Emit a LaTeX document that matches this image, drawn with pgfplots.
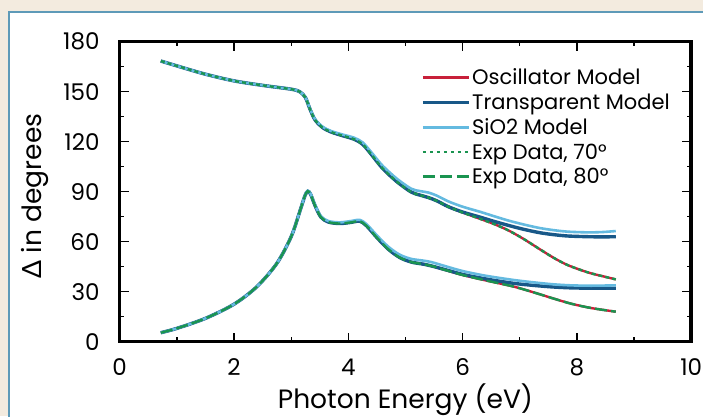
\documentclass[border=0pt]{standalone}
\usepackage{pgfplots}
\pgfplotsset{compat=1.18}
\usepackage{pgfplotstable}
\usepackage{fontspec}
\setmainfont{Poppins}
\newfontfamily\greekfont{Lato}
\definecolor{bgbeige}{RGB}{243,235,223}
\definecolor{panelborder}{RGB}{94,154,184}
\definecolor{oscred}{RGB}{200,32,58}
\definecolor{transblue}{RGB}{24,88,136}
\definecolor{sioblue}{RGB}{100,186,224}
\definecolor{expgreen}{RGB}{26,148,80}

\pgfplotstableread{
E     osc    trans  sio2
0.72  168.4  168.4  168.4
1.0   165.5  165.5  165.5
1.5   160.5  160.5  160.5
2.0   156.5  156.5  156.5
2.5   153.8  153.8  153.8
3.0   151.5  151.5  151.5
3.15  150.0  150.0  150.0
3.25  146.5  146.5  146.6
3.33  139.5  139.5  139.8
3.42  133.0  133.0  133.4
3.55  128.5  128.5  129.0
3.7   125.8  125.8  126.4
3.9   123.6  123.6  124.3
4.1   121.5  121.5  122.4
4.25  118.5  118.5  119.6
4.4   112.5  112.5  113.8
4.6   104.0  104.0  105.6
4.85  96.0   96.0   97.8
5.1   89.8   89.8   91.8
5.25  88.0   88.0   90.4
5.4   86.5   86.5   89.5
5.55  84.5   84.5   87.6
5.75  81.0   81.0   84.2
6.0   77.5   77.8   81.0
6.3   73.8   74.8   78.0
6.55  70.6   72.2   75.3
6.8   66.8   69.8   72.7
7.06  61.8   67.5   70.4
7.35  55.5   65.4   68.2
7.6   50.2   64.2   66.9
7.85  45.8   63.4   66.0
8.2   41.5   63.0   65.6
8.45  39.3   62.9   65.8
8.68  37.4   63.0   66.4
}\uppercurve

\pgfplotstableread{
E     osc    trans  sio2
0.72  5.4    5.4    5.4
1.0   8.0    8.0    8.0
1.5   14.0   14.0   14.0
2.0   22.5   22.5   22.5
2.4   33.0   33.0   33.0
2.75  47.0   47.0   47.0
3.0   63.0   63.0   63.0
3.15  78.0   78.0   78.0
3.24  87.5   87.5   87.6
3.29  90.3   90.3   90.5
3.34  88.5   88.5   88.8
3.42  81.5   81.5   81.9
3.52  74.8   74.8   75.3
3.65  71.8   71.8   72.4
3.85  70.9   70.9   71.6
4.05  71.6   71.6   72.4
4.2   72.3   72.3   73.1
4.32  69.5   69.5   70.5
4.5   62.5   62.5   63.8
4.7   55.5   55.5   57.0
4.9   50.5   50.5   52.2
5.1   47.8   47.8   49.7
5.3   46.6   46.6   48.7
5.45  45.5   45.5   47.8
5.7   43.0   43.2   45.3
6.0   40.0   40.4   42.4
6.4   36.8   37.7   39.6
6.9   33.0   35.0   37.0
7.3   29.0   33.6   35.4
7.6   25.8   32.8   34.4
7.9   22.8   32.3   33.8
8.25  20.2   32.1   33.6
8.68  18.0   32.1   33.8
}\lowercurve

\begin{document}
\begin{tikzpicture}[x=1pt,y=1pt]
\useasboundingbox (0,0) rectangle (703,416);
\clip (0,0) rectangle (703,416);
\fill[bgbeige] (0,0) rectangle (703,416);
\filldraw[fill=white, draw=panelborder, line width=1.5pt] (9,-20) rectangle (730,404);
\begin{axis}[
  at={(119.7pt,74.3pt)}, anchor=south west,
  scale only axis, width=571.5pt, height=300pt,
  xmin=0, xmax=10, ymin=0, ymax=180,
  xtick={0,2,4,6,8,10}, minor xtick={1,3,5,7,9},
  ytick={0,30,60,90,120,150,180}, minor ytick={15,45,75,105,135,165},
  tick align=inside,
  major tick length=9pt, minor tick length=4.5pt,
  every tick/.style={black, line width=1.3pt},
  axis line style={line width=3.5pt},
  /pgf/number format/assume math mode=true,
  tick label style={font=\fontsize{23}{26}\selectfont},
  yticklabel style={anchor=east, inner sep=0pt, xshift=-20pt},
  xticklabel style={anchor=north, inner sep=0pt, yshift=-17pt},
  xlabel={Photon Energy (eV)},
  ylabel={{\greekfont Δ} in degrees},
  label style={font=\fontsize{26.5}{29}\selectfont},
  xlabel style={at={(axis description cs:0.5,0)}, anchor=base, inner sep=0pt, yshift=-66.5pt},
  ylabel style={at={(axis description cs:-0.1365,0.486)}, anchor=base, inner sep=0pt},
  legend style={draw=none, fill=none, at={(axis cs:5.28,165.0)}, anchor=north west,
     font=\fontsize{21}{24}\selectfont, row sep=3.6pt, inner sep=0pt,
     /tikz/every even column/.append style={column sep=0pt}},
  legend cell align=left,
  legend image code/.code={\draw[#1] (0pt,0pt) -- (46pt,0pt);},
]
\addlegendimage{oscred, line width=2.5pt}
\addlegendentry{Oscillator Model}
\addlegendimage{transblue, line width=2.5pt}
\addlegendentry{Transparent Model}
\addlegendimage{sioblue, line width=2.5pt}
\addlegendentry{SiO2 Model}
\addlegendimage{expgreen, line width=2.5pt, dash pattern=on 3.5pt off 3.5pt}
\addlegendentry{Exp Data, 70°}
\addlegendimage{expgreen, line width=2.5pt, dash pattern=on 12pt off 5pt}
\addlegendentry{Exp Data, 80°}

\addplot[forget plot, oscred, line width=2.4pt, smooth, tension=0.5] table[x=E, y=osc] {\uppercurve};
\addplot[forget plot, oscred, line width=2.4pt, smooth, tension=0.5] table[x=E, y=osc] {\lowercurve};
\addplot[forget plot, transblue, line width=3.4pt, smooth, tension=0.5] table[x=E, y=trans] {\uppercurve};
\addplot[forget plot, transblue, line width=3.4pt, smooth, tension=0.5] table[x=E, y=trans] {\lowercurve};
\addplot[forget plot, sioblue, line width=2.6pt, smooth, tension=0.5] table[x=E, y=sio2] {\uppercurve};
\addplot[forget plot, sioblue, line width=2.6pt, smooth, tension=0.5] table[x=E, y=sio2] {\lowercurve};
\addplot[forget plot, expgreen, line width=2.4pt, smooth, tension=0.5, dash pattern=on 4pt off 3pt] table[x=E, y=osc] {\uppercurve};
\addplot[forget plot, expgreen, line width=2.4pt, smooth, tension=0.5, dash pattern=on 12pt off 4pt] table[x=E, y=osc] {\lowercurve};
\end{axis}
\end{tikzpicture}
\end{document}
